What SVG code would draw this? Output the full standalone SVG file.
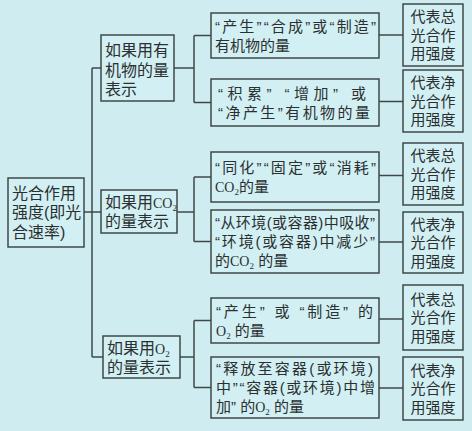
<svg xmlns="http://www.w3.org/2000/svg" width="472" height="431" viewBox="0 0 472 431">
<style>
.bg{fill:#cfedf1}
.box{fill:#d2eff3;stroke:#3f4848;stroke-width:1.5}
.ln{fill:none;stroke:#3f4848;stroke-width:1.5}
text{font-family:'Liberation Sans','Noto Sans CJK SC',sans-serif;fill:#2b2f30}
.t16{font-size:16px}
.t15{font-size:15px}
.r{font-size:15px;text-anchor:middle}
.ser{font-family:'Liberation Serif','Noto Sans CJK SC',serif}
.sub{font-size:9px}
</style>
<rect class="bg" x="0" y="0" width="472" height="431"/>
<g id="connectors">
<path class="ln" d="M84 212H92M92 68V357M92 68H101M92 212H101M92 357H103"/>
<path class="ln" d="M174 68H194M194 35.5V102.5M194 35.5H211M194 102.5H211"/>
<path class="ln" d="M177 212H194M194 177V241.5M194 177H211M194 241.5H211"/>
<path class="ln" d="M180 357H194M194 320.5V387.5M194 320.5H211M194 387.5H211"/>
<path class="ln" d="M379 35H403M379 101.5H403M379 175.5H403M379 242H403M379 319H403M379 388H403"/>
</g>
<g id="root">
<rect class="box" x="8" y="178" width="76" height="69"/>
<text class="t16" x="12" y="198.5">光合作用</text>
<text class="t16" x="12" y="218">强度(即光</text>
<text class="t16" x="12" y="237.5">合速率)</text>
</g>
<g id="organic">
<rect class="box" x="101" y="35" width="73" height="66"/>
<text class="t16" x="105" y="56">如果用有</text>
<text class="t16" x="105" y="75.5">机物的量</text>
<text class="t16" x="105" y="95">表示</text>
</g>
<g id="co2">
<rect class="box" x="101" y="190" width="76" height="43"/>
<text class="t16" x="105" y="207.5">如果用<tspan class="ser" font-size="14">CO</tspan><tspan class="ser sub" dy="3">2</tspan></text>
<text class="t16" x="105" y="227">的量表示</text>
</g>
<g id="o2">
<rect class="box" x="103" y="336" width="77" height="42"/>
<text class="t16" x="107" y="353.5">如果用<tspan class="ser" font-size="14">O</tspan><tspan class="ser sub" dy="3">2</tspan></text>
<text class="t16" x="107" y="373">的量表示</text>
</g>
<g id="c1">
<rect class="box" x="211" y="13" width="168" height="45"/>
<text class="t15" x="215" y="31.5" textLength="161">“产生”“合成”或“制造”</text>
<text class="t15" x="215" y="50.5">有机物的量</text>
</g>
<g id="c2">
<rect class="box" x="211" y="79" width="168" height="47"/>
<text class="t15" x="218" y="98.5" textLength="148">“积累”  “增加”  或</text>
<text class="t15" x="218" y="117.5" textLength="152">“净产生”有机物的量</text>
</g>
<g id="c3">
<rect class="box" x="211" y="152" width="168" height="50"/>
<text class="t15" x="215" y="173" textLength="161">“同化”“固定”或“消耗”</text>
<text class="t15" x="215" y="192"><tspan class="ser" font-size="14">CO</tspan><tspan class="ser sub" dy="3">2</tspan><tspan dy="-3">的量</tspan></text>
</g>
<g id="c4">
<rect class="box" x="211" y="210" width="168" height="63"/>
<text class="t15" x="215" y="228" textLength="160">“从环境(或容器)中吸收”</text>
<text class="t15" x="215" y="247" textLength="160">“环境(或容器)中减少”</text>
<text class="t15" x="215" y="266">的<tspan class="ser" font-size="14">CO</tspan><tspan class="ser sub" dy="3">2</tspan><tspan dy="-3"> 的量</tspan></text>
</g>
<g id="c5">
<rect class="box" x="211" y="298" width="168" height="45"/>
<text class="t15" x="216" y="316.5" textLength="157">“产生” 或 “制造” 的</text>
<text class="t15" x="216" y="335.5"><tspan class="ser" font-size="14">O</tspan><tspan class="ser sub" dy="3">2</tspan><tspan dy="-3"> 的量</tspan></text>
</g>
<g id="c6">
<rect class="box" x="211" y="357" width="168" height="61"/>
<text class="t15" x="216" y="374" textLength="157">“释放至容器(或环境)</text>
<text class="t15" x="216" y="393" textLength="159">中”“容器(或环境)中增</text>
<text class="t15" x="216" y="412">加” 的<tspan class="ser" font-size="14">O</tspan><tspan class="ser sub" dy="3">2</tspan><tspan dy="-3"> 的量</tspan></text>
</g>
<g id="r1">
<rect class="box" x="403" y="4" width="60" height="62"/>
<text class="r" x="433" y="22">代表总</text>
<text class="r" x="433" y="40.5">光合作</text>
<text class="r" x="433" y="59">用强度</text>
</g>
<g id="r2">
<rect class="box" x="403" y="70" width="60" height="62"/>
<text class="r" x="433" y="88">代表净</text>
<text class="r" x="433" y="106.5">光合作</text>
<text class="r" x="433" y="125">用强度</text>
</g>
<g id="r3">
<rect class="box" x="403" y="143" width="60" height="62"/>
<text class="r" x="433" y="161">代表总</text>
<text class="r" x="433" y="179.5">光合作</text>
<text class="r" x="433" y="198">用强度</text>
</g>
<g id="r4">
<rect class="box" x="403" y="212" width="60" height="61"/>
<text class="r" x="433" y="229.5">代表净</text>
<text class="r" x="433" y="248">光合作</text>
<text class="r" x="433" y="266.5">用强度</text>
</g>
<g id="r5">
<rect class="box" x="403" y="285" width="60" height="65"/>
<text class="r" x="433" y="304.5">代表总</text>
<text class="r" x="433" y="323">光合作</text>
<text class="r" x="433" y="341.5">用强度</text>
</g>
<g id="r6">
<rect class="box" x="403" y="357" width="60" height="63"/>
<text class="r" x="433" y="375.5">代表净</text>
<text class="r" x="433" y="394">光合作</text>
<text class="r" x="433" y="412.5">用强度</text>
</g>
</svg>
